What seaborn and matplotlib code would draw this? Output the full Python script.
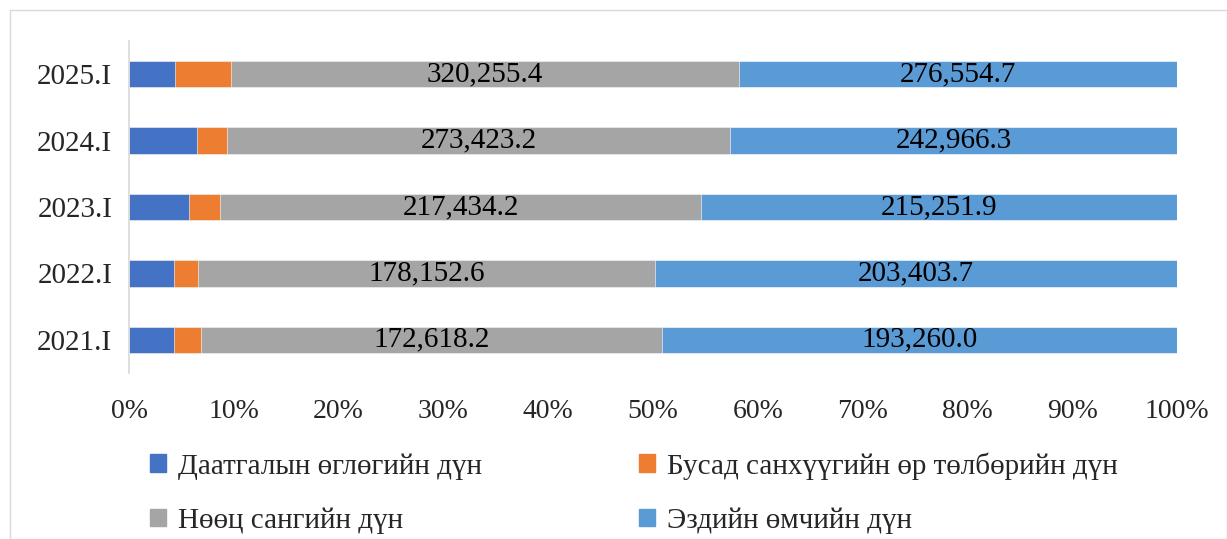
import pandas as pd
import numpy as np
import matplotlib.pyplot as plt
import matplotlib.patches as mpatches
import seaborn as sns

# Өгөгдөл (сая төгрөг), дээрээс нь 100%-д шилжүүлнэ
years = ['2021.I', '2022.I', '2023.I', '2024.I', '2025.I']
insurance_payable = [16780, 17580, 27020, 36850, 29040]
other_liabilities = [10250, 9240, 14180, 16480, 35390]
reserve_fund = [172618.2, 178152.6, 217434.2, 273423.2, 320255.4]
equity = [193260.0, 203403.7, 215251.9, 242966.3, 276554.7]

series_names = ['Даатгалын өглөгийн дүн', 'Бусад санхүүгийн өр төлбөрийн дүн',
                'Нөөц сангийн дүн', 'Эздийн өмчийн дүн']
colors = ['#4472C4', '#ED7D31', '#A5A5A5', '#5B9BD5']

df = pd.DataFrame({
    series_names[0]: insurance_payable,
    series_names[1]: other_liabilities,
    series_names[2]: reserve_fund,
    series_names[3]: equity,
}, index=years)

pct = df.div(df.sum(axis=1), axis=0) * 100
cum = pct.cumsum(axis=1)
order = years[::-1]

sns.set_style('white')
plt.rcParams['font.family'] = ['Liberation Serif', 'DejaVu Serif']
fs = 21

fig = plt.figure(figsize=(12.27, 5.39), dpi=100)
ax = fig.add_axes([129 / 1227, 1 - 373 / 539, 1048 / 1227, 332 / 539])

# давхарласан баганууд: хуримтлагдсан нийлбэрийг арын цувралаас эхэлж зурна
for name, col in reversed(list(zip(series_names, colors))):
    sns.barplot(x=cum[name].values, y=years, order=order, orient='h',
                color=col, saturation=1, width=0.4, ax=ax,
                edgecolor='white', linewidth=0.4)

# утгын шошго (Нөөц сан, Эздийн өмч)
for name in series_names[2:]:
    for yr in years:
        xc = cum.loc[yr, name] - pct.loc[yr, name] / 2
        ax.text(xc, order.index(yr), f'{df.loc[yr, name]:,.1f}',
                ha='center', va='center', fontsize=fs, color='black')

ax.set_xlim(0, 100)
ax.set_ylim(len(years) - 0.5, -0.5)
ax.set_xticks(np.arange(0, 101, 10))
ax.set_xticklabels([f'{t}%' for t in range(0, 101, 10)], fontsize=20)
ax.tick_params(axis='x', length=0, pad=19)
ax.tick_params(axis='y', length=0, pad=12, labelsize=fs)
ax.set_xlabel('')
ax.set_ylabel('')
for s in ['top', 'right', 'bottom']:
    ax.spines[s].set_visible(False)
ax.spines['left'].set_color('#d9d9d9')
ax.spines['left'].set_linewidth(1.2)

handles = [mpatches.Patch(color=c) for c in colors]
# багана дагуу дүүрнэ: [0, 2] эхний багана, [1, 3] хоёр дахь
leg_order = [0, 2, 1, 3]
fig.legend([handles[i] for i in leg_order], [series_names[i] for i in leg_order],
           ncol=2, loc='upper left', bbox_to_anchor=(150 / 1227, 1 - 452 / 539),
           frameon=False, fontsize=fs, handlelength=0.55, handleheight=0.55,
           handletextpad=0.4, labelspacing=0.95, columnspacing=5.4,
           borderaxespad=0, borderpad=0)

fig.patches.append(mpatches.Rectangle((10 / 1227, 0), 1 - 10 / 1227, 1 - 10 / 539,
                                      transform=fig.transFigure, fill=False,
                                      edgecolor='#d9d9d9', linewidth=1))

fig.savefig('out.png', dpi=100)
